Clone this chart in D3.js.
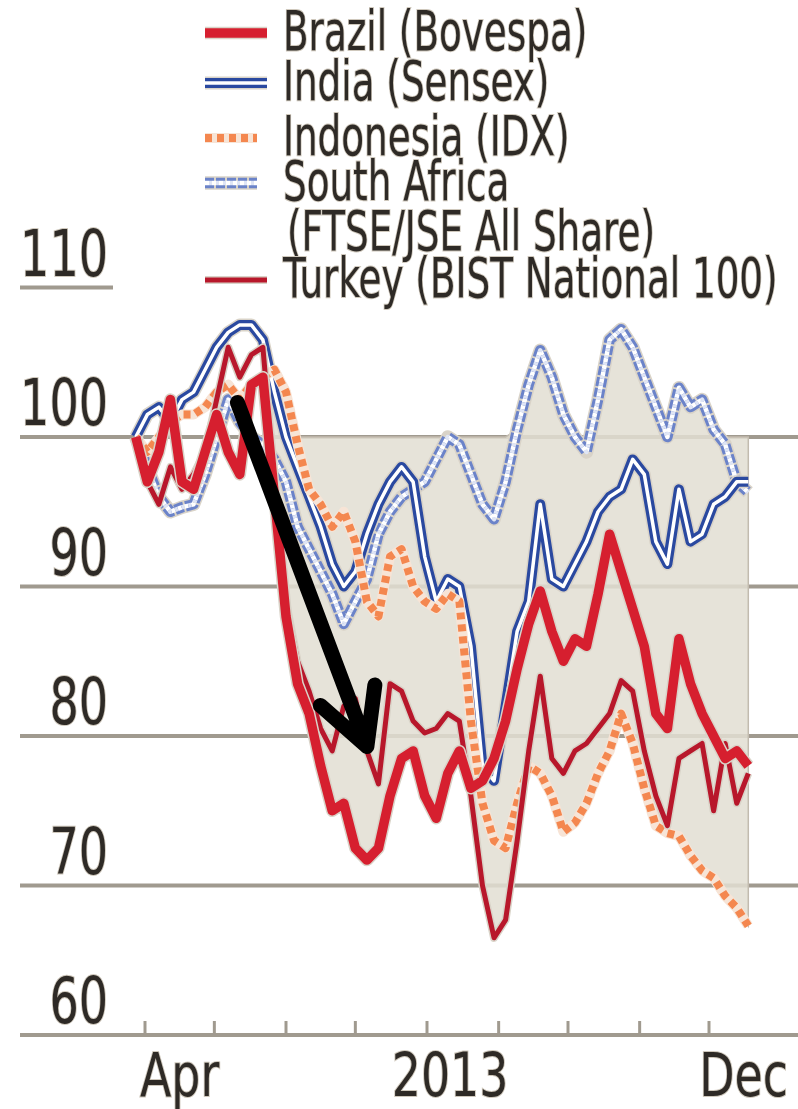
<!DOCTYPE html>
<html>
<head>
<meta charset="utf-8">
<script src="https://cdn.jsdelivr.net/npm/d3@7"></script>
<style>
  html, body { margin: 0; padding: 0; background: #fff; }
  svg { display: block; }
  text { font-family: "DejaVu Sans Condensed", "Liberation Sans Narrow", sans-serif; fill: #2e2a26; }
</style>
</head>
<body>
<svg id="chart" width="798" height="1109"></svg>
<script>
// Stockmarket indices, rebased to 100 at the start of the period, sampled every five days
const dates = [
  "2013-03-28","2013-04-02","2013-04-07","2013-04-12","2013-04-17","2013-04-22","2013-04-27",
  "2013-05-02","2013-05-07","2013-05-12","2013-05-17","2013-05-22","2013-05-27","2013-06-01",
  "2013-06-06","2013-06-11","2013-06-16","2013-06-21","2013-06-26","2013-07-01","2013-07-06",
  "2013-07-11","2013-07-16","2013-07-21","2013-07-26","2013-07-31","2013-08-05","2013-08-10",
  "2013-08-15","2013-08-20","2013-08-25","2013-08-30","2013-09-04","2013-09-09","2013-09-14",
  "2013-09-19","2013-09-24","2013-09-29","2013-10-04","2013-10-09","2013-10-14","2013-10-19",
  "2013-10-24","2013-10-29","2013-11-03","2013-11-08","2013-11-13","2013-11-18","2013-11-23",
  "2013-11-28","2013-12-03","2013-12-08","2013-12-13","2013-12-18"
];

const brazil = [
  100, 97, 99, 102.5, 97, 96.5, 99, 101.5, 99, 97.5, 103.5, 104, 96, 88,
  83.5, 81.5, 78, 75, 75.5, 72.5, 71.7, 72.5, 76, 78.5, 79, 76, 74.5, 77.5,
  79, 76.5, 77, 78.5, 81, 84.5, 87.5, 89.7, 87, 85, 86.5, 86, 89.5, 93.5,
  91, 88.5, 86, 81.5, 80.5, 86.5, 83.5, 81.5, 80, 78.5, 79, 78
];
const india = [
  100, 101.5, 102, 101, 102.5, 103, 104.5, 106, 107, 107.5, 107.5, 106.5, 103, 100,
  98, 96, 94, 91.5, 90, 91, 93.5, 95.5, 97, 98, 97, 92, 89, 90.5,
  90, 86, 78, 77, 82, 87, 89, 95.5, 90.5, 90, 91.5, 93, 95, 96,
  96.5, 98.5, 97.5, 93, 91.5, 96.5, 93, 93.5, 95.5, 96, 97, 97
];
const indonesia = [
  100, 99, 100, 101, 101.5, 101.5, 102, 103, 103.5, 102.5, 103.5, 104, 104.5, 103,
  99.5, 96.5, 95.5, 94, 95, 93, 89, 88, 92, 92.5, 90, 89, 88.5, 89.5,
  89, 81, 75.5, 73, 72.5, 75.5, 78, 77.5, 76, 73.6, 74.2, 75.5, 77.5, 79,
  81.5, 79.5, 76.5, 74, 73.5, 73.3, 72, 71, 70.5, 69.3, 68.5, 67.3
];
const southAfrica = [
  100, 98, 96, 95, 95.3, 95.5, 97.5, 100, 102.5, 101, 100, 99.5, 98.5, 97,
  94, 92.5, 91, 89.5, 87.5, 89, 90.5, 93.5, 95, 96, 96.5, 97, 98.5, 100,
  99.5, 97.5, 95.5, 94.5, 97, 100.5, 103.5, 105.8, 104, 101.5, 100, 99, 102.5, 106.5,
  107.2, 106, 104, 102, 100, 103.3, 102, 102.5, 100.5, 99.5, 97, 96.3
];
const turkey = [
  100, 97, 95.5, 98, 96.5, 97.5, 99, 102.5, 106, 104, 105.5, 106, 97, 89,
  85, 83, 80.5, 79, 82, 82.5, 79, 76.8, 83.5, 83, 81, 80.2, 80.5, 81.5,
  81, 76, 70, 66.5, 67.7, 73, 79, 84, 78.5, 77.5, 79, 79.5, 80.5, 81.5,
  83.7, 83, 79, 76, 74, 78.5, 79, 79.5, 75, 79.5, 75.5, 77.5
];

const legendLabels = [
  ["Brazil (Bovespa)"],
  ["India (Sensex)"],
  ["Indonesia (IDX)"],
  ["South Africa", "(FTSE/JSE All Share)"],
  ["Turkey (BIST National 100)"]
];

const yTickValues = [110, 100, 90, 80, 70, 60];
const monthTicks = ["2013-04-01","2013-05-01","2013-06-01","2013-07-01","2013-08-01",
                    "2013-09-01","2013-10-01","2013-11-01","2013-12-01"];
const xLabels = ["Apr", "2013", "Dec"];
const xLabelDates = ["2013-04-16", "2013-08-11", "2013-12-16"];

// Period after the Fed's tapering remarks, shaded between the highest and lowest index
const shadeStart = "2013-05-22";

// Annotation arrow (date, index level)
const arrowFrom = ["2013-05-11", 102.3];
const arrowTo = ["2013-07-06", 79.3];

// ---------------------------------------------------------------------------
const parse = d3.utcParse("%Y-%m-%d");
const svg = d3.select("#chart");

const x = d3.scaleUtc()
  .domain([parse("2013-04-01"), parse("2013-12-01")])
  .range([145, 709]);
const y = d3.scaleLinear().domain([60, 110]).range([1035, 287.5]);

const gridColor = "#a09a8f";
const dateObjs = dates.map(parse);

// Squeeze text horizontally to mimic a narrow typeface
function condense(sel, factor) {
  sel.each(function () {
    const w = this.getComputedTextLength();
    d3.select(this).attr("textLength", w * factor).attr("lengthAdjust", "spacingAndGlyphs");
  });
}

// Horizontal gridlines and baseline
const grid = svg.append("g");
yTickValues.forEach(v => {
  grid.append("line")
    .attr("x1", 20).attr("x2", v === 110 ? 113 : 798)
    .attr("y1", y(v)).attr("y2", y(v))
    .attr("stroke", gridColor).attr("stroke-width", 4);
});

// Shaded band
const seriesValues = [brazil, india, indonesia, southAfrica, turkey];
const startIdx = dateObjs.findIndex(d => +d >= +parse(shadeStart));
const band = dateObjs.map((d, i) => ({
  date: d,
  lo: d3.min(seriesValues, s => s[i]),
  hi: Math.max(100, d3.max(seriesValues, s => s[i]))
})).slice(startIdx);

svg.append("path")
  .datum(band)
  .attr("d", d3.area().x(d => x(d.date)).y0(d => y(d.lo)).y1(d => y(d.hi)))
  .attr("fill", "#e2ded3")
  .attr("fill-opacity", 0.86)
  .attr("stroke", "#c2bbaf")
  .attr("stroke-width", 1.5);

// Month ticks on the baseline
svg.append("g").selectAll("line")
  .data(monthTicks.map(parse))
  .join("line")
  .attr("x1", d => x(d)).attr("x2", d => x(d))
  .attr("y1", y(60) - 14).attr("y2", y(60))
  .attr("stroke", gridColor).attr("stroke-width", 3);

// Line styles, drawn as stacked strokes
const halo = "#d9d3c8";
const styles = {
  brazil: [
    { stroke: halo, width: 12.5 },
    { stroke: "#d61f2f", width: 9.5 }
  ],
  india: [
    { stroke: halo, width: 13 },
    { stroke: "#2a49a0", width: 10 },
    { stroke: "#ffffff", width: 3.5 }
  ],
  indonesia: [
    { stroke: "#f7e4d6", width: 10 },
    { stroke: "#f4874f", width: 8, dash: "7,5" }
  ],
  southAfrica: [
    { stroke: halo, width: 13.5 },
    { stroke: "#6b83c9", width: 10.5, dash: "9,2" },
    { stroke: "#ffffff", width: 4.5, dash: "4,3" },
    { stroke: "#dfe5f5", width: 4.5, dash: "0,4,3,0" }
  ],
  turkey: [
    { stroke: halo, width: 8 },
    { stroke: "#b8172b", width: 5 }
  ]
};

const line = d3.line().x((d, i) => x(dateObjs[i])).y(d => y(d));

function drawStroked(g, pathD, layers) {
  layers.forEach(l => {
    g.append("path")
      .attr("d", pathD)
      .attr("fill", "none")
      .attr("stroke", l.stroke)
      .attr("stroke-width", l.width)
      .attr("stroke-linejoin", "round")
      .attr("stroke-dasharray", l.dash || null);
  });
}

const lines = svg.append("g");
const drawOrder = [
  [southAfrica, styles.southAfrica],
  [india, styles.india],
  [indonesia, styles.indonesia],
  [turkey, styles.turkey],
  [brazil, styles.brazil]
];
drawOrder.forEach(([vals, st]) => drawStroked(lines.append("g"), line(vals), st));

// Axis labels
const textHalo = "#cfc8bc";
svg.append("g").selectAll("text")
  .data(yTickValues)
  .join("text")
  .attr("x", 108)
  .attr("y", v => y(v) - 12)
  .attr("text-anchor", "end")
  .attr("font-size", 64)
  .attr("stroke", textHalo).attr("stroke-width", 2).attr("paint-order", "stroke")
  .text(v => v)
  .call(condense, 0.8);

svg.append("g").selectAll("text")
  .data(xLabels)
  .join("text")
  .attr("x", (t, i) => x(parse(xLabelDates[i])))
  .attr("y", 1096)
  .attr("text-anchor", "middle")
  .attr("font-size", 60)
  .attr("stroke", textHalo).attr("stroke-width", 2).attr("paint-order", "stroke")
  .text(t => t)
  .call(condense, 0.85);

// Legend
const legendStyles = [styles.brazil, styles.india, styles.indonesia, styles.southAfrica, styles.turkey];
const legendBaselines = [50, 100, 155, 200, 297];
const legend = svg.append("g");
legendLabels.forEach((lbl, i) => {
  const base = legendBaselines[i];
  const sy = base - 17;
  const x2 = (i === 2 || i === 3) ? 257 : 267;
  drawStroked(legend.append("g"), `M205,${sy}H${x2}`, legendStyles[i]);
  lbl.forEach((t, j) => {
    legend.append("text")
      .attr("x", j === 0 ? 283 : 287)
      .attr("y", base + j * 50)
      .attr("font-size", 56)
      .attr("stroke", textHalo).attr("stroke-width", 2).attr("paint-order", "stroke")
      .text(t)
      .call(condense, 0.74);
  });
});

// Arrow annotation
const ax0 = x(parse(arrowFrom[0])), ay0 = y(arrowFrom[1]);
const ax1 = x(parse(arrowTo[0])), ay1 = y(arrowTo[1]);
const ang = Math.atan2(ay0 - ay1, ax0 - ax1);
const headLen = 62, spread = 28 * Math.PI / 180;
const h1 = [ax1 + headLen * Math.cos(ang + spread), ay1 + headLen * Math.sin(ang + spread)];
const h2 = [ax1 + headLen * Math.cos(ang - spread), ay1 + headLen * Math.sin(ang - spread)];
svg.append("path")
  .attr("d", `M${ax0},${ay0}L${ax1},${ay1}M${h1[0]},${h1[1]}L${ax1},${ay1}L${h2[0]},${h2[1]}`)
  .attr("fill", "none")
  .attr("stroke", "#000")
  .attr("stroke-width", 15)
  .attr("stroke-linecap", "round")
  .attr("stroke-linejoin", "round");
</script>
</body>
</html>
